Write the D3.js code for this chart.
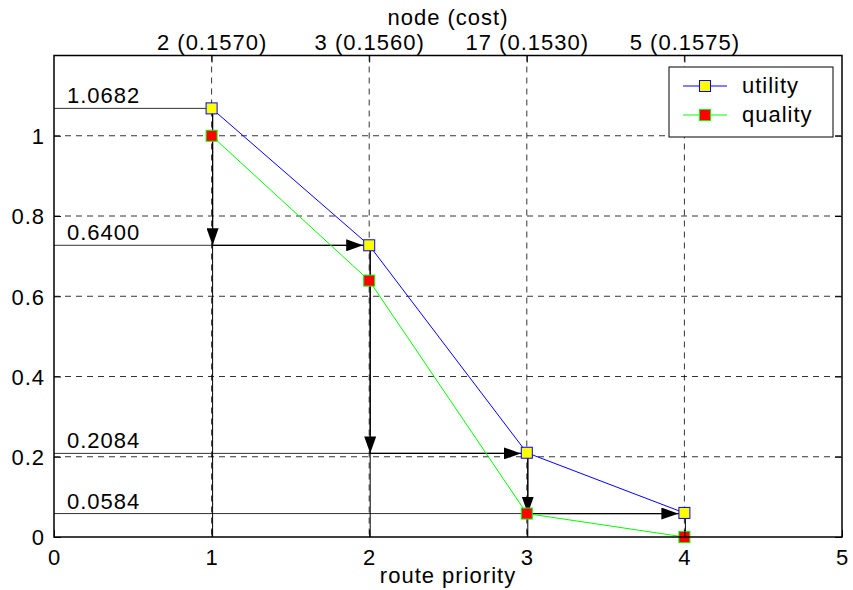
<!DOCTYPE html>
<html><head><meta charset="utf-8">
<script src="https://cdn.jsdelivr.net/npm/d3@7"></script>
<style>body{margin:0;background:#fff}text{font-family:"Liberation Sans",Arial,sans-serif;fill:#000;letter-spacing:1px}</style>
</head><body><svg id="c" width="853" height="590"></svg>
<script>
const priority=[1,2,3,4];
const utility=[1.0682,0.7270,0.2100,0.0600];
const quality=[1.0,0.6390,0.0584,0.0];
const guideY=[1.0682,0.7270,0.2084,0.0584];
const guideLabels=["1.0682","0.6400","0.2084","0.0584"];
const topTickLabels=["2 (0.1570)","3 (0.1560)","17 (0.1530)","5 (0.1575)"];
const xTicks=[0,1,2,3,4,5];
const yTicks=[0,0.2,0.4,0.6,0.8,1];
const seriesNames=["utility","quality"];

const svg=d3.select("#c");
const L=54,R=842,T=55.5,B=537;
const x=d3.scaleLinear().domain([0,5]).range([L,R]);
const y=d3.scaleLinear().domain([0,1.2]).range([B,T]);
const fs=22;

svg.append("defs").append("marker").attr("id","ah").attr("viewBox","0 0 10 10")
 .attr("preserveAspectRatio","none")
 .attr("refX",10).attr("refY",5).attr("markerWidth",17).attr("markerHeight",12)
 .attr("markerUnits","userSpaceOnUse").attr("orient","auto")
 .append("path").attr("d","M0,0L10,5L0,10Z").attr("fill","#000");

// grid
const g=svg.append("g");
g.selectAll(".gy").data(yTicks.filter(d=>d>0)).join("line")
 .attr("x1",L).attr("x2",R).attr("y1",d=>y(d)).attr("y2",d=>y(d))
 .attr("stroke","#000").attr("stroke-dasharray","6,5").attr("stroke-width",0.8);
g.selectAll(".gx").data(priority).join("line")
 .attr("y1",T).attr("y2",B).attr("x1",d=>x(d)).attr("x2",d=>x(d))
 .attr("stroke","#000").attr("stroke-dasharray","6,5").attr("stroke-width",0.8);

// guide lines from y-axis
guideY.forEach((v,i)=>{
  svg.append("line").attr("x1",x(0)).attr("x2",x(priority[i])).attr("y1",y(v)).attr("y2",y(v))
   .attr("stroke","#333").attr("stroke-width",1);
  svg.append("text").attr("x",x(0)+13).attr("y",y(v)-5).attr("font-size",fs).text(guideLabels[i]);
});
// vertical drops
priority.forEach((p,i)=>{
  svg.append("line").attr("x1",x(p)+1).attr("x2",x(p)+1).attr("y1",y(utility[i])).attr("y2",y(0))
   .attr("stroke","#000").attr("stroke-width",1);
});
// arrows
for(let i=0;i<3;i++){
  svg.append("line").attr("x1",x(priority[i])+1).attr("x2",x(priority[i])+1)
   .attr("y1",y(utility[i])).attr("y2",y(guideY[i+1]))
   .attr("stroke","#000").attr("stroke-width",1.2).attr("marker-end","url(#ah)");
  svg.append("line").attr("x1",x(priority[i])).attr("x2",x(priority[i+1])-6)
   .attr("y1",y(guideY[i+1])).attr("y2",y(guideY[i+1]))
   .attr("stroke","#000").attr("stroke-width",1.2).attr("marker-end","url(#ah)");
}

// series
const line=d3.line().x((d,i)=>x(priority[i])).y(d=>y(d));
svg.append("path").datum(utility).attr("d",line).attr("fill","none").attr("stroke","#0000ff").attr("stroke-width",1);
svg.append("path").datum(quality).attr("d",line).attr("fill","none").attr("stroke","#00ff00").attr("stroke-width",1);
const ms=11;
svg.selectAll(".mu").data(utility).join("rect").attr("x",(d,i)=>x(priority[i])-ms/2).attr("y",d=>y(d)-ms/2)
 .attr("width",ms).attr("height",ms).attr("fill","#ffff00").attr("stroke","#0000ff").attr("stroke-width",1);
svg.selectAll(".mq").data(quality).join("rect").attr("x",(d,i)=>x(priority[i])-ms/2).attr("y",d=>y(d)-ms/2)
 .attr("width",ms).attr("height",ms).attr("fill","#ff0000").attr("stroke","#00ff00").attr("stroke-width",1);

// axes frame
svg.append("rect").attr("x",L).attr("y",T).attr("width",R-L).attr("height",B-T).attr("fill","none").attr("stroke","#000").attr("stroke-width",1.5);
const tl=7;
const bx=svg.append("g").attr("transform",`translate(0,${B})`).call(d3.axisBottom(x).tickValues(xTicks).tickFormat(d3.format("d")).tickSize(-tl));
const tx=svg.append("g").attr("transform",`translate(0,${T})`).call(d3.axisTop(x).tickValues(priority).tickFormat((d,i)=>topTickLabels[i]).tickSize(-tl));
const ly=svg.append("g").attr("transform",`translate(${L},0)`).call(d3.axisLeft(y).tickValues(yTicks).tickFormat(d=>d===0?"0":d===1?"1":d3.format(".1f")(d)).tickSize(-tl));
const ry=svg.append("g").attr("transform",`translate(${R},0)`).call(d3.axisRight(y).tickValues(yTicks).tickFormat("").tickSize(-tl));
[bx,tx,ly,ry].forEach(a=>{a.select(".domain").remove();a.attr("font-size",null).attr("font-family",null);a.selectAll("text").attr("font-size",fs);a.selectAll("line").attr("stroke-width",1);});
bx.selectAll("text").attr("y",28).attr("dy",null);
tx.selectAll("text").attr("y",-6).attr("dy",null);
ly.selectAll("text").attr("x",-9).attr("dy","0.36em");

svg.append("text").attr("x",448).attr("y",25).attr("text-anchor","middle").attr("font-size",fs).text("node (cost)");
svg.append("text").attr("x",448).attr("y",583).attr("text-anchor","middle").attr("font-size",fs).text("route priority");

// legend
const lg=svg.append("g");
lg.append("rect").attr("x",669).attr("y",67).attr("width",164).attr("height",70).attr("fill","#fff").attr("stroke","#000").attr("stroke-width",1);
const cols=[["#0000ff","#ffff00"],["#00ff00","#ff0000"]];
seriesNames.forEach((n,i)=>{
  const yy=86+i*29;
  lg.append("line").attr("x1",683).attr("x2",727).attr("y1",yy).attr("y2",yy).attr("stroke",cols[i][0]);
  lg.append("rect").attr("x",705-ms/2).attr("y",yy-ms/2).attr("width",ms).attr("height",ms).attr("fill",cols[i][1]).attr("stroke",cols[i][0]);
  lg.append("text").attr("x",742).attr("y",yy+7).attr("font-size",fs).text(n);
});
</script></body></html>
